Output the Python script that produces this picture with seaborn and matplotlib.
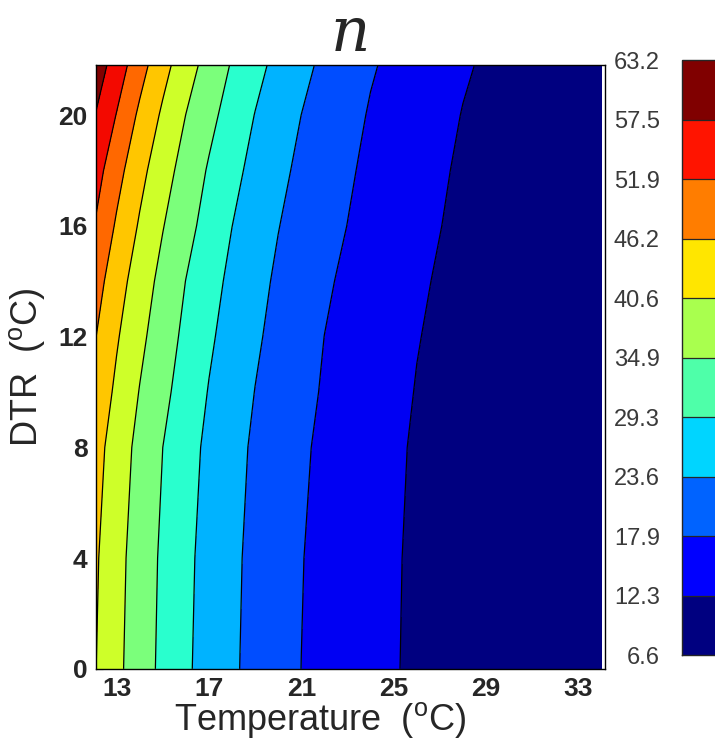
import numpy as np
import matplotlib
matplotlib.use("Agg")
import matplotlib.pyplot as plt
import seaborn as sns
from matplotlib.colors import BoundaryNorm, ListedColormap
from matplotlib.cm import ScalarMappable

# ------ DATA ------ #
temperature = [12, 13, 14, 15, 16, 17, 18, 19, 20, 21, 22, 24, 26, 28, 30, 32, 34]
dtr = [0, 4, 8, 10, 12, 14, 16, 18, 20, 22]

n_dtr0 = [43.13, 38.66, 34.75, 31.19, 27.93, 25.24, 22.72, 20.65, 18.75, 16.87, 15.63, 13.15, 10.95, 9.55, 8.35, 7.40, 6.60]
n_dtr4 = [43.65, 39.10, 35.13, 31.52, 28.26, 25.49, 22.97, 20.84, 18.94, 17.04, 15.75, 13.27, 11.04, 9.62, 8.41, 7.45, 6.64]
n_dtr8 = [44.93, 40.20, 36.06, 32.33, 29.07, 26.12, 23.60, 21.32, 19.42, 17.52, 16.06, 13.58, 11.27, 9.80, 8.56, 7.57, 6.74]
n_dtr10 = [46.63, 41.65, 37.28, 33.56, 30.15, 26.95, 24.43, 21.95, 20.05, 18.15, 16.47, 13.99, 11.58, 10.03, 8.76, 7.72, 6.87]
n_dtr12 = [48.37, 43.13, 38.66, 34.75, 31.19, 27.93, 25.24, 22.72, 20.65, 18.75, 16.87, 14.39, 11.91, 10.25, 8.95, 7.88, 7.00]
n_dtr14 = [50.36, 44.83, 40.11, 35.98, 32.26, 29.00, 26.07, 23.55, 21.28, 19.38, 17.48, 14.79, 12.31, 10.48, 9.15, 8.03, 7.13]
n_dtr16 = [53.08, 47.14, 42.09, 37.69, 33.94, 30.47, 27.21, 24.69, 22.17, 20.24, 18.34, 15.35, 12.87, 10.80, 9.42, 8.25, 7.31]
n_dtr18 = [55.48, 49.58, 44.16, 39.54, 35.50, 31.84, 28.58, 25.74, 23.22, 21.03, 19.13, 15.87, 13.39, 11.13, 9.69, 8.47, 7.50]
n_dtr20 = [58.45, 52.73, 46.83, 41.83, 37.43, 33.71, 30.28, 27.05, 24.53, 22.02, 20.12, 16.52, 14.04, 11.61, 10.05, 8.78, 7.74]
n_dtr22 = [61.70, 55.99, 50.12, 44.62, 39.94, 35.83, 32.13, 28.87, 25.97, 23.45, 21.20, 17.40, 14.74, 12.26, 10.45, 9.12, 8.01]

cbar_ticks = [6.6, 12.3, 17.9, 23.6, 29.3, 34.9, 40.6, 46.2, 51.9, 57.5, 63.2]
cbar_labels = ["6.6", "12.3", "17.9", "23.6", "29.3", "34.9", "40.6", "46.2", "51.9", "57.5", "63.2"]
x_ticks = [13, 17, 21, 25, 29, 33]
y_ticks = [0, 4, 8, 12, 16, 20]

# ------ STYLE ------ #
sns.set_style("white")
plt.rcParams["font.family"] = ["Liberation Sans", "DejaVu Sans"]
plt.rcParams["mathtext.fontset"] = "custom"
plt.rcParams["mathtext.rm"] = "Liberation Sans"

n_grid = np.array([n_dtr0, n_dtr4, n_dtr8, n_dtr10, n_dtr12, n_dtr14,
                   n_dtr16, n_dtr18, n_dtr20, n_dtr22])
levels = np.linspace(cbar_ticks[0], cbar_ticks[-1], 12)
fill_colors = [matplotlib.colormaps["jet"].resampled(11)(i) for i in range(11)]

fig = plt.figure(figsize=(7.15, 7.49), dpi=100)
ax = fig.add_axes([0.134, 0.107, 0.712, 0.806])

ax.contourf(temperature, dtr, n_grid, levels=levels, colors=fill_colors)
ax.contour(temperature, dtr, n_grid, levels=levels[1:-1], colors="k", linewidths=0.9)

ax.set_xlim(12.1, 34.15)
ax.set_ylim(0, 21.8)
ax.set_xticks(x_ticks)
ax.set_yticks(y_ticks)
ax.tick_params(direction="in", length=5, width=0.8, color="k", labelsize=19, pad=6,
               bottom=True, left=True)
for lab in ax.get_yticklabels() + ax.get_xticklabels():
    lab.set_fontweight("bold")
for sp in ax.spines.values():
    sp.set_color("k")
    sp.set_linewidth(1.0)

ax.set_xlabel(r"Temperature  ($^{\rm o}$C)", fontsize=26, labelpad=2)
ax.xaxis.set_label_coords(0.44, -0.052, transform=ax.transAxes)
ax.xaxis.label.set_va("top")
ax.set_ylabel(r"DTR  ($^{\rm o}$C)", fontsize=26, labelpad=8)
ax.set_title("n", fontsize=44, fontstyle="italic", family="DejaVu Serif", pad=10)

# ------ COLORBAR ------ #
cax = fig.add_axes([0.954, 0.1255, 0.06, 0.794])
bar_cmap = ListedColormap(matplotlib.colormaps["jet"].resampled(10)(np.arange(10)))
sm = ScalarMappable(norm=BoundaryNorm(cbar_ticks, 10), cmap=bar_cmap)
cb = fig.colorbar(sm, cax=cax, drawedges=True)
cb.set_ticks(cbar_ticks)
cb.set_ticklabels(cbar_labels)
cb.outline.set_linewidth(1.0)
cb.dividers.set_linewidth(0.9)
cax.yaxis.set_ticks_position("left")
cax.tick_params(length=0, labelsize=17, labelcolor="#3a3a3a", pad=16)

fig.savefig("out.png", dpi=100)
